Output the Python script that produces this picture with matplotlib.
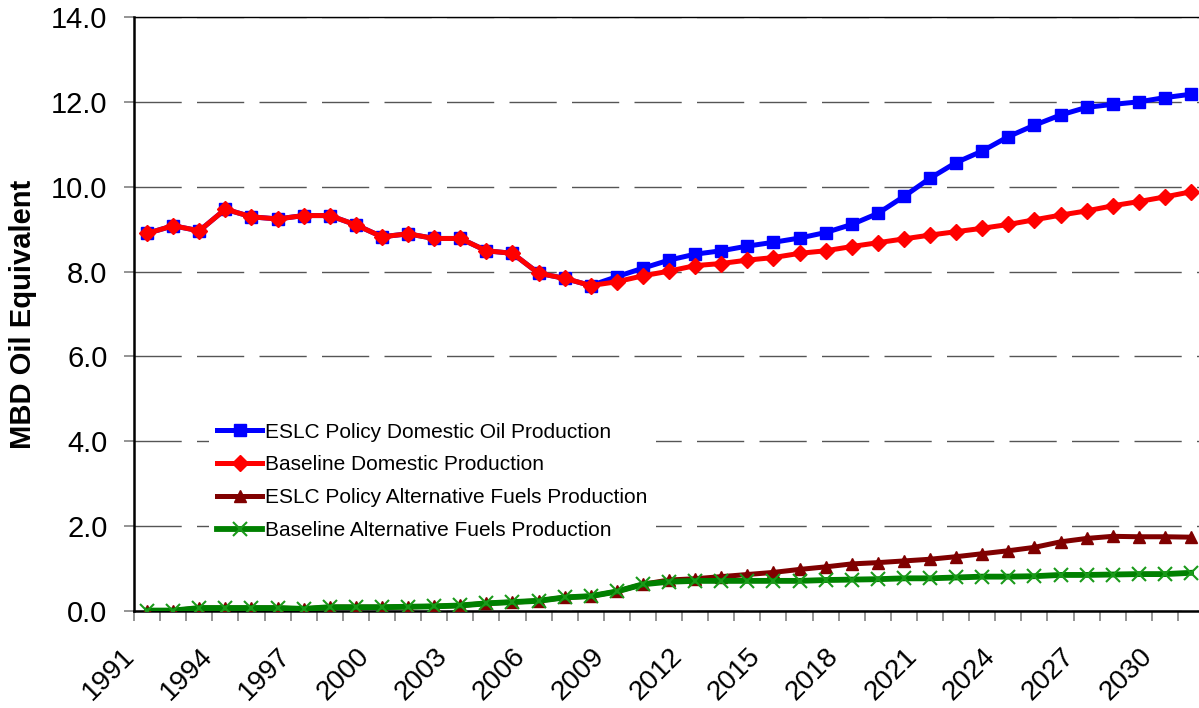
import numpy as np
import matplotlib
matplotlib.use("Agg")
import matplotlib.pyplot as plt
from matplotlib.transforms import ScaledTranslation

plt.rcParams['font.family'] = ['Liberation Sans', 'DejaVu Sans']

years = list(range(1991, 2032))

# MBD oil equivalent, one value per year
eslc_oil = [8.90, 9.08, 8.96, 9.47, 9.29, 9.24, 9.32, 9.32, 9.10, 8.82,
            8.89, 8.78, 8.78, 8.49, 8.43, 7.96, 7.84, 7.67, 7.88, 8.08,
            8.27, 8.41, 8.49, 8.60, 8.69, 8.79, 8.92, 9.11, 9.37, 9.77,
            10.20, 10.57, 10.84, 11.18, 11.45, 11.69, 11.87, 11.94, 12.00, 12.10,
            12.18]
base_oil = [8.90, 9.08, 8.96, 9.47, 9.29, 9.24, 9.32, 9.32, 9.10, 8.82,
            8.89, 8.78, 8.78, 8.49, 8.43, 7.96, 7.84, 7.67, 7.76, 7.90,
            8.01, 8.14, 8.19, 8.27, 8.33, 8.43, 8.49, 8.59, 8.68, 8.77,
            8.86, 8.94, 9.02, 9.11, 9.22, 9.33, 9.43, 9.55, 9.65, 9.76,
            9.88]
eslc_alt = [0.01, 0.01, 0.07, 0.07, 0.07, 0.07, 0.05, 0.09, 0.09, 0.09,
            0.10, 0.11, 0.13, 0.18, 0.21, 0.24, 0.32, 0.35, 0.46, 0.63,
            0.73, 0.76, 0.81, 0.86, 0.91, 0.98, 1.04, 1.11, 1.14, 1.18,
            1.22, 1.28, 1.35, 1.42, 1.50, 1.63, 1.71, 1.76, 1.75, 1.75,
            1.74]
base_alt = [0.01, 0.01, 0.07, 0.07, 0.07, 0.07, 0.05, 0.09, 0.09, 0.09,
            0.10, 0.11, 0.13, 0.18, 0.21, 0.24, 0.32, 0.35, 0.46, 0.63,
            0.69, 0.71, 0.71, 0.71, 0.71, 0.71, 0.73, 0.74, 0.75, 0.77,
            0.77, 0.79, 0.81, 0.81, 0.82, 0.85, 0.85, 0.86, 0.87, 0.87,
            0.90]

labels = ["ESLC Policy Domestic Oil Production",
          "Baseline Domestic Production",
          "ESLC Policy Alternative Fuels Production",
          "Baseline Alternative Fuels Production"]

fig = plt.figure(figsize=(11.99, 7.08), dpi=100)
ax = fig.add_axes([0.1118, 0.1370, 0.8924, 0.8390])

ax.plot(years, eslc_oil, color='#0000FF', lw=3.6, marker='s', ms=8,
        label=labels[0], zorder=3)
ax.plot(years, base_oil, color='#FF0000', lw=3.6, marker='D', ms=8.5,
        label=labels[1], zorder=4)
ax.plot(years, eslc_alt, color='#800000', lw=3.6, marker='^', ms=8,
        label=labels[2], zorder=5)
ax.plot(years, base_alt, color='#008000', lw=4.2, marker='x', ms=10,
        mew=1.5, mec='#1a9a1a', label=labels[3], zorder=6)

ax.set_xlim(years[0] - 0.5, years[-1] + 0.5)
ax.set_ylim(0, 14)
ax.set_yticks(np.arange(0, 15, 2))
ax.set_yticklabels([f"{v:.1f}" for v in np.arange(0, 15, 2)])

# gridlines
ax.yaxis.grid(True, color='#555555', lw=1.0, linestyle=(0, (34, 11)))
ax.set_axisbelow(True)

ax.spines['right'].set_visible(False)
ax.spines['top'].set_linewidth(1.0)
ax.spines['left'].set_linewidth(1.8)
ax.spines['bottom'].set_linewidth(1.8)

ax.tick_params(axis='y', direction='out', length=7.2, width=1.1,
               color='#777777', pad=12, labelsize=21)

# tick marks between years, labels every third year
ax.set_xticks(np.arange(years[0] - 0.5, years[-1] + 1, 1), minor=True)
ax.set_xticks(years[::3])
ax.set_xticklabels([str(y) for y in years[::3]])
ax.tick_params(axis='x', which='minor', direction='out', length=7.2,
               width=1.1, color='#777777')
ax.tick_params(axis='x', which='major', length=0, pad=23, labelsize=20)
shift = ScaledTranslation(-0.26, 0, fig.dpi_scale_trans)
for lbl in ax.get_xticklabels():
    lbl.set_rotation(45)
    lbl.set_ha('right')
    lbl.set_va('top')
    lbl.set_rotation_mode('anchor')
    lbl.set_transform(lbl.get_transform() + shift)

ax.set_ylabel("MBD Oil Equivalent", fontsize=21, fontweight='bold')
ax.yaxis.set_label_coords(-0.091, 0.5)

# white legend box hides the gridlines behind it
leg = ax.legend(loc='upper left', bbox_to_anchor=(0.0698, 0.331),
                frameon=True, facecolor='white', edgecolor='none',
                framealpha=1, fancybox=False,
                fontsize=15, handlelength=2.16, handletextpad=0.15,
                labelspacing=0.66, borderpad=0.4, borderaxespad=0)
leg.set_zorder(7)

fig.savefig("out.png", dpi=100)
